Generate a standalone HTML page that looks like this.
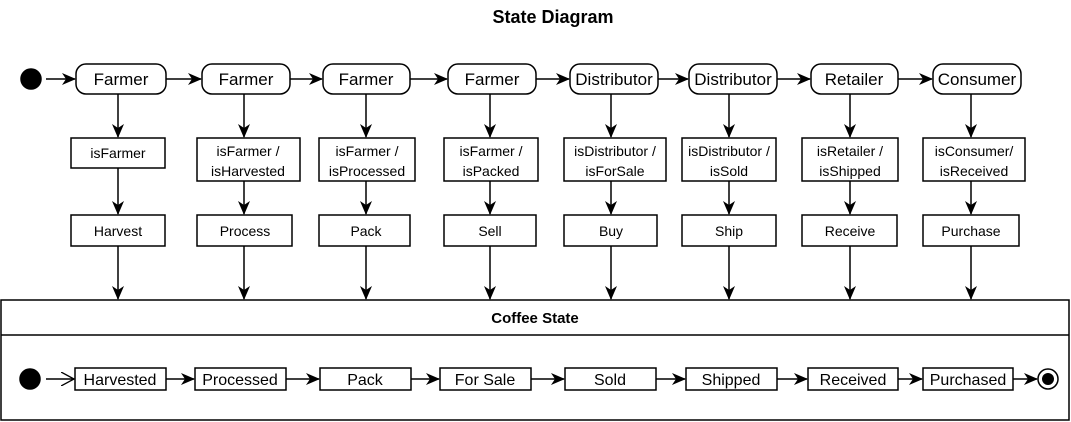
<!DOCTYPE html>
<html><head><style>body{margin:0;background:#fff}svg{display:block}text{font-family:"Liberation Sans",Arial,sans-serif;fill:#000}</style></head><body>
<svg width="1071" height="422" viewBox="0 0 1071 422" xmlns="http://www.w3.org/2000/svg">
<defs><marker id="a" markerWidth="14" markerHeight="12" refX="13" refY="6" orient="auto" markerUnits="userSpaceOnUse"><path d="M0,0 L14,6 L0,12 L4,6 Z" fill="#000"/></marker>
<marker id="o" markerWidth="14" markerHeight="14" refX="13" refY="7" orient="auto" markerUnits="userSpaceOnUse"><path d="M0,0 L13,7 L0,14" fill="none" stroke="#000" stroke-width="1.3"/></marker></defs>
<text x="553" y="23" font-size="18" font-weight="bold" text-anchor="middle">State Diagram</text>
<g stroke="#000" stroke-width="1.5" fill="none">
<circle cx="31" cy="79" r="10" fill="#000"/>
<line x1="46" y1="79" x2="75" y2="79" marker-end="url(#a)"/>
<line x1="166" y1="79" x2="201" y2="79" marker-end="url(#a)"/>
<line x1="290" y1="79" x2="322" y2="79" marker-end="url(#a)"/>
<line x1="410" y1="79" x2="447" y2="79" marker-end="url(#a)"/>
<line x1="536" y1="79" x2="569" y2="79" marker-end="url(#a)"/>
<line x1="658" y1="79" x2="688" y2="79" marker-end="url(#a)"/>
<line x1="777" y1="79" x2="810" y2="79" marker-end="url(#a)"/>
<line x1="898" y1="79" x2="932" y2="79" marker-end="url(#a)"/>
<rect x="76" y="64" width="90" height="30" rx="10"/>
<rect x="202" y="64" width="88" height="30" rx="10"/>
<rect x="323" y="64" width="87" height="30" rx="10"/>
<rect x="448" y="64" width="88" height="30" rx="10"/>
<rect x="570" y="64" width="88" height="30" rx="10"/>
<rect x="689" y="64" width="88" height="30" rx="10"/>
<rect x="811" y="64" width="87" height="30" rx="10"/>
<rect x="933" y="64" width="88" height="30" rx="10"/>
<rect x="71" y="138" width="94" height="30"/>
<rect x="197" y="138" width="103" height="43"/>
<rect x="319" y="138" width="96" height="43"/>
<rect x="444" y="138" width="94" height="43"/>
<rect x="564" y="138" width="102" height="43"/>
<rect x="682" y="138" width="94" height="43"/>
<rect x="802" y="138" width="96" height="43"/>
<rect x="923" y="138" width="102" height="43"/>
<rect x="71" y="215" width="94" height="31"/>
<rect x="197" y="215" width="95" height="31"/>
<rect x="319" y="215" width="91" height="31"/>
<rect x="444" y="215" width="92" height="31"/>
<rect x="564" y="215" width="93" height="31"/>
<rect x="682" y="215" width="94" height="31"/>
<rect x="802" y="215" width="95" height="31"/>
<rect x="923" y="215" width="96" height="31"/>
<line x1="118" y1="94" x2="118" y2="137" marker-end="url(#a)"/><line x1="118" y1="168" x2="118" y2="214" marker-end="url(#a)"/><line x1="118" y1="246" x2="118" y2="299" marker-end="url(#a)"/>
<line x1="244" y1="94" x2="244" y2="137" marker-end="url(#a)"/><line x1="244" y1="181" x2="244" y2="214" marker-end="url(#a)"/><line x1="244" y1="246" x2="244" y2="299" marker-end="url(#a)"/>
<line x1="366" y1="94" x2="366" y2="137" marker-end="url(#a)"/><line x1="366" y1="181" x2="366" y2="214" marker-end="url(#a)"/><line x1="366" y1="246" x2="366" y2="299" marker-end="url(#a)"/>
<line x1="490" y1="94" x2="490" y2="137" marker-end="url(#a)"/><line x1="490" y1="181" x2="490" y2="214" marker-end="url(#a)"/><line x1="490" y1="246" x2="490" y2="299" marker-end="url(#a)"/>
<line x1="611" y1="94" x2="611" y2="137" marker-end="url(#a)"/><line x1="611" y1="181" x2="611" y2="214" marker-end="url(#a)"/><line x1="611" y1="246" x2="611" y2="299" marker-end="url(#a)"/>
<line x1="729" y1="94" x2="729" y2="137" marker-end="url(#a)"/><line x1="729" y1="181" x2="729" y2="214" marker-end="url(#a)"/><line x1="729" y1="246" x2="729" y2="299" marker-end="url(#a)"/>
<line x1="850" y1="94" x2="850" y2="137" marker-end="url(#a)"/><line x1="850" y1="181" x2="850" y2="214" marker-end="url(#a)"/><line x1="850" y1="246" x2="850" y2="299" marker-end="url(#a)"/>
<line x1="971" y1="94" x2="971" y2="137" marker-end="url(#a)"/><line x1="971" y1="181" x2="971" y2="214" marker-end="url(#a)"/><line x1="971" y1="246" x2="971" y2="299" marker-end="url(#a)"/>
<rect x="1" y="300" width="1068" height="120"/>
<line x1="1" y1="335" x2="1069" y2="335"/>
<circle cx="30" cy="379" r="10" fill="#000"/>
<line x1="46" y1="379" x2="74" y2="379" marker-end="url(#o)"/>
<rect x="75" y="368" width="91" height="22"/>
<rect x="195" y="368" width="91" height="22"/>
<rect x="320" y="368" width="91" height="22"/>
<rect x="440" y="368" width="91" height="22"/>
<rect x="565" y="368" width="91" height="22"/>
<rect x="686" y="368" width="91" height="22"/>
<rect x="808" y="368" width="90" height="22"/>
<rect x="923" y="368" width="90" height="22"/>
<line x1="166" y1="379" x2="194" y2="379" marker-end="url(#a)"/>
<line x1="286" y1="379" x2="319" y2="379" marker-end="url(#a)"/>
<line x1="411" y1="379" x2="439" y2="379" marker-end="url(#a)"/>
<line x1="531" y1="379" x2="564" y2="379" marker-end="url(#a)"/>
<line x1="656" y1="379" x2="685" y2="379" marker-end="url(#a)"/>
<line x1="777" y1="379" x2="807" y2="379" marker-end="url(#a)"/>
<line x1="898" y1="379" x2="922" y2="379" marker-end="url(#a)"/>
<line x1="1013" y1="379" x2="1037" y2="379" marker-end="url(#a)"/>
<circle cx="1048" cy="379" r="10" fill="#fff"/>
<circle cx="1048" cy="379" r="6" fill="#000" stroke="none"/>
</g>
<g font-size="17" text-anchor="middle">
<text x="121" y="85">Farmer</text><text x="246" y="85">Farmer</text><text x="366" y="85">Farmer</text><text x="492" y="85">Farmer</text>
<text x="614" y="85">Distributor</text><text x="733" y="85">Distributor</text><text x="854" y="85">Retailer</text><text x="977" y="85">Consumer</text>
</g>
<g font-size="14" text-anchor="middle">
<text x="118" y="158">isFarmer</text>
<text x="248" y="156">isFarmer /</text><text x="248" y="176">isHarvested</text>
<text x="367" y="156">isFarmer /</text><text x="367" y="176">isProcessed</text>
<text x="491" y="156">isFarmer /</text><text x="491" y="176">isPacked</text>
<text x="615" y="156">isDistributor /</text><text x="615" y="176">isForSale</text>
<text x="729" y="156">isDistributor /</text><text x="729" y="176">isSold</text>
<text x="850" y="156">isRetailer /</text><text x="850" y="176">isShipped</text>
<text x="974" y="156">isConsumer/</text><text x="974" y="176">isReceived</text>
<text x="118" y="236">Harvest</text><text x="245" y="236">Process</text><text x="366" y="236">Pack</text><text x="490" y="236">Sell</text>
<text x="611" y="236">Buy</text><text x="729" y="236">Ship</text><text x="850" y="236">Receive</text><text x="971" y="236">Purchase</text>
<text x="535" y="323" font-weight="bold" font-size="15">Coffee State</text>
</g>
<g font-size="16" text-anchor="middle">
<text x="120" y="385">Harvested</text><text x="240" y="385">Processed</text><text x="365" y="385">Pack</text><text x="485" y="385">For Sale</text>
<text x="610" y="385">Sold</text><text x="731" y="385">Shipped</text><text x="853" y="385">Received</text><text x="968" y="385">Purchased</text>
</g>
</svg>
</body></html>
